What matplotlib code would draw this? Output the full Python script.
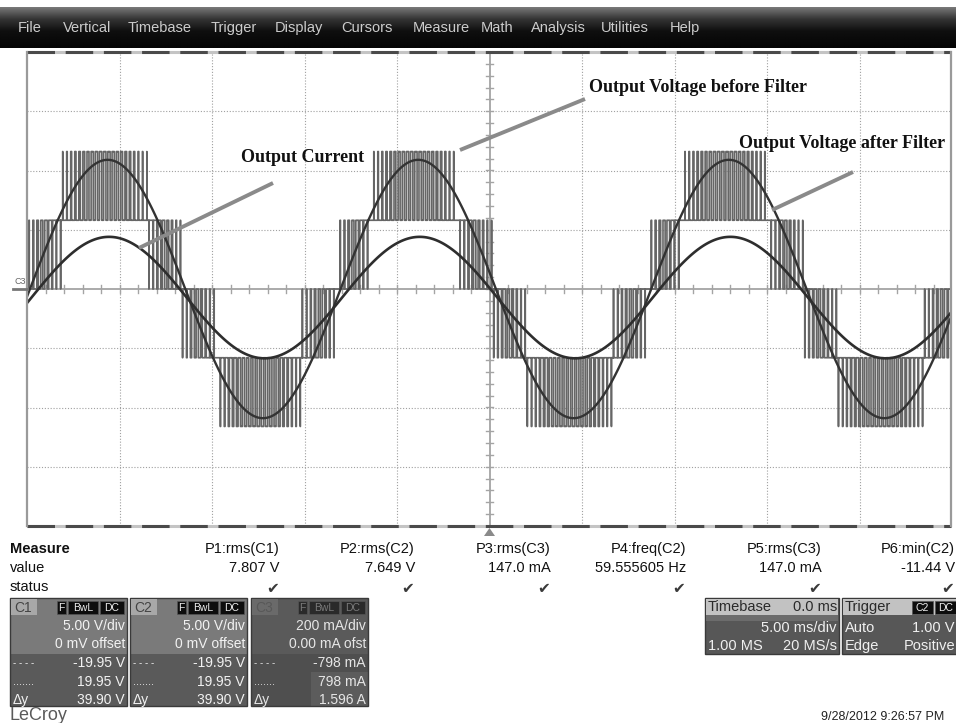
import numpy as np
import matplotlib
matplotlib.use('Agg')
import matplotlib.pyplot as plt
from matplotlib.patches import Rectangle, Polygon

plt.rcParams['path.simplify'] = False

W, H = 956, 723
SANS = 'Liberation Sans'
SERIF = 'Liberation Serif'

# ---------------- data ----------------
menu_items = ['File', 'Vertical', 'Timebase', 'Trigger', 'Display', 'Cursors',
              'Measure', 'Math', 'Analysis', 'Utilities', 'Help']
menu_x = [18, 63, 128, 211, 275, 341, 413, 481, 531, 601, 670]

meas_params = ['P1:rms(C1)', 'P2:rms(C2)', 'P3:rms(C3)', 'P4:freq(C2)',
               'P5:rms(C3)', 'P6:min(C2)']
meas_values = ['7.807 V', '7.649 V', '147.0 mA', '59.555605 Hz', '147.0 mA', '-11.44 V']

ch_names = ['C1', 'C2', 'C3']
ch_scale = ['5.00 V/div', '5.00 V/div', '200 mA/div']
ch_offset = ['0 mV offset', '0 mV offset', '0.00 mA ofst']
ch_low = ['-19.95 V', '-19.95 V', '-798 mA']
ch_high = ['19.95 V', '19.95 V', '798 mA']
ch_dy = ['39.90 V', '39.90 V', '1.596 A']

timebase_rows = [('Timebase', '0.0 ms'), ('', '5.00 ms/div'), ('1.00 MS', '20 MS/s')]
trigger_rows = [('Trigger', ''), ('Auto', '1.00 V'), ('Edge', 'Positive')]

annotations = ['Output Current', 'Output Voltage before Filter', 'Output Voltage after Filter']

# waveform parameters
freq_hz = 59.555605          # P4 measurement
t_zero_ms = -24.84           # upward zero crossing of the filtered voltage
c1_peak_v = 10.9             # filtered output voltage amplitude
c3_peak_ma = 205.0           # output current amplitude
c3_offset_ma = -29.0         # current dc offset
c2_step_v = 5.8              # multilevel inverter voltage step
c2_ref_peak = 1.55           # modulation reference peak (in steps)
c2_lead_ms = 0.2             # reference lead vs filtered voltage
carrier_hz = 4400.0          # PWM carrier frequency
volts_per_div = 5.0
ma_per_div = 200.0
time_span_ms = (-25.0, 25.0)
div_span = (-4.0, 4.0)

# ---------------- figure ----------------
fig = plt.figure(figsize=(W / 100, H / 100), dpi=100)
fig.patch.set_facecolor('white')

# scope graticule axes
ax = fig.add_axes([27 / W, 1 - 526 / H, 925 / W, 474 / H])
ax.set_xlim(*time_span_ms)
ax.set_ylim(*div_span)
ax.axis('off')

# grid
for gx in np.arange(-20, 25, 5):
    if gx != 0:
        ax.axvline(gx, color='#a0a0a0', lw=0.8, ls=(0, (1, 1.6)), zorder=1)
for gy in np.arange(-3, 4, 1):
    if gy != 0:
        ax.axhline(gy, color='#a0a0a0', lw=0.8, ls=(0, (1, 1.6)), zorder=1)
ax.axhline(0, color='#a4a4a4', lw=1.3, zorder=1)
ax.axvline(0, color='#a4a4a4', lw=1.3, zorder=1)
for tx in np.arange(-24, 25, 1):
    ax.plot([tx, tx], [-0.06, 0.06], color='#a4a4a4', lw=1.0, zorder=1)
for ty in np.arange(-3.8, 4.0, 0.2):
    ax.plot([-0.2, 0.2], [ty, ty], color='#a4a4a4', lw=1.0, zorder=1)

# traces
t = np.linspace(time_span_ms[0], time_span_ms[1], 200001)
theta = 2 * np.pi * freq_hz * (t - t_zero_ms) / 1000.0
theta_ref = 2 * np.pi * freq_hz * (t - t_zero_ms + c2_lead_ms) / 1000.0
ref = c2_ref_peak * np.sin(theta_ref)
ph = (t * carrier_hz / 1000.0) % 1.0
tri = 2 * np.abs(ph - 0.5)
levels = ((ref > tri).astype(int) + (ref > tri + 1).astype(int)
          - (ref < tri - 1).astype(int) - (ref < tri - 2).astype(int))
c2_div = levels * c2_step_v / volts_per_div
c1_div = c1_peak_v * np.sin(theta) / volts_per_div
c3_div = (c3_peak_ma * np.sin(theta - 0.03) + c3_offset_ma) / ma_per_div

ax.plot(t, c2_div, color='#666666', lw=1.2, zorder=3)
ax.plot(t, c1_div, color='#333333', lw=1.7, zorder=4)
ax.plot(t, c3_div, color='#2e2e2e', lw=1.9, zorder=4)

# ---------------- overlay (pixel coordinates) ----------------
ov = fig.add_axes([0, 0, 1, 1], zorder=5)
ov.patch.set_visible(False)
ov.axis('off')

# menu bar gradient
grad_vals = np.concatenate([np.linspace(0.47, 0.22, 12), np.linspace(0.2, 0.07, 12),
                            np.linspace(0.06, 0.02, 17)])
grad = np.repeat(grad_vals[:, None], 4, axis=1)
ov.imshow(grad, extent=(0, W, 48, 7), cmap='gray', vmin=0, vmax=1, aspect='auto',
          interpolation='bilinear', zorder=1)
for name, mx in zip(menu_items, menu_x):
    ov.text(mx, 28, name, color='#cccccc', fontsize=10.5, family=SANS,
            ha='left', va='center', zorder=2)

# graticule border
ov.plot([27, 951], [52, 52], color='#c4c4c4', lw=2.2, solid_capstyle='butt', zorder=2)
ov.plot([27, 951], [52, 52], color='#4a4a4a', lw=2.2, ls=(0, (9, 3.5)), zorder=2)
ov.plot([27, 951], [526, 526], color='#c4c4c4', lw=2.2, solid_capstyle='butt', zorder=2)
ov.plot([27, 951], [526, 526], color='#4a4a4a', lw=2.2, ls=(0, (9, 3.5)), zorder=2)
ov.plot([27, 27], [52, 526], color='#9a9a9a', lw=1.6, zorder=2)
ov.plot([951, 951], [52, 526], color='#9a9a9a', lw=1.6, zorder=2)

# C3 ground marker and trigger marker
ov.text(20, 282, 'C3', fontsize=6.5, color='#666666', family=SANS, ha='center', va='center')
ov.plot([13, 27], [289, 289], color='#777777', lw=2.0)
ov.add_patch(Polygon([[489.5, 528], [484, 536], [495, 536]], closed=True,
                     fc='#8a8a8a', ec='none'))

# annotations
ann_pos = [(241, 158), (589, 87), (739, 143)]
ann_lines = [((273, 183), (139, 248)), ((585, 99), (460, 150)), ((853, 172), (772, 210))]
for txt, (axp, ayp) in zip(annotations, ann_pos):
    ov.text(axp, ayp, txt, fontsize=13, family=SERIF, fontweight='bold',
            color='#111111', ha='left', va='center', zorder=6)
for (p0, p1) in ann_lines:
    ov.plot([p0[0], p1[0]], [p0[1], p1[1]], color='#8a8a8a', lw=2.8,
            solid_capstyle='butt', zorder=6)

# measure table
ov.text(10, 549, 'Measure', fontsize=10.5, family=SANS, fontweight='bold',
        color='#111111', ha='left', va='center')
ov.text(10, 568, 'value', fontsize=10.5, family=SANS, color='#111111', ha='left', va='center')
ov.text(10, 587, 'status', fontsize=10.5, family=SANS, color='#111111', ha='left', va='center')
col_right = [280, 415, 551, 686, 822, 955]
for cx, p, v in zip(col_right, meas_params, meas_values):
    ov.text(cx, 549, p, fontsize=10.5, family=SANS, color='#111111', ha='right', va='center')
    ov.text(cx, 568, v, fontsize=10.5, family=SANS, color='#111111', ha='right', va='center')
    ov.text(cx - 1, 588, '\u2714', fontsize=11, family=['DejaVu Sans'], color='#3a3a3a',
            ha='right', va='center')


def badge(x, y, w, h, label, fc, tc):
    ov.add_patch(Rectangle((x, y), w, h, fc=fc, ec='#555555', lw=0.5))
    ov.text(x + w / 2, y + h / 2 + 0.5, label, fontsize=7.5, family=SANS, color=tc,
            ha='center', va='center')


def chan_box(x0, i, dim=False):
    top_c = '#5a5a5a' if dim else '#7a7a7a'
    bot_c = '#4f4f4f' if dim else '#5a5a5a'
    txt_c = '#e6e6e6' if dim else '#f2f2f2'
    ov.add_patch(Rectangle((x0, 598), 117, 56, fc=top_c, ec='none'))
    ov.add_patch(Rectangle((x0, 654), 117, 52, fc=bot_c, ec='none'))
    if dim:
        ov.add_patch(Rectangle((x0 + 60, 672), 57, 34, fc='#666666', ec='none', alpha=0.6))
    ov.add_patch(Rectangle((x0, 598), 117, 108, fill=False, ec='#3a3a3a', lw=1.0))
    ov.add_patch(Rectangle((x0 + 1, 599), 26, 16,
                           fc='#6a6a6a' if dim else '#a8a8a8', ec='none'))
    ov.text(x0 + 4, 607.5, ch_names[i], fontsize=10, family=SANS,
            color='#585858' if dim else '#444444', ha='left', va='center')
    bfc = '#2a2a2a' if dim else '#0d0d0d'
    btc = '#7a7a7a' if dim else '#eeeeee'
    badge(x0 + 47, 601, 9, 13, 'F', bfc, btc)
    badge(x0 + 58, 601, 30, 13, 'BwL', bfc, btc)
    badge(x0 + 90, 601, 24, 13, 'DC', bfc, btc)
    rx = x0 + 115
    ov.text(rx, 626, ch_scale[i], fontsize=10, family=SANS, color=txt_c, ha='right', va='center')
    ov.text(rx, 644, ch_offset[i], fontsize=10, family=SANS, color=txt_c, ha='right', va='center')
    ov.text(rx, 663, ch_low[i], fontsize=10, family=SANS, color=txt_c, ha='right', va='center')
    ov.text(rx, 682, ch_high[i], fontsize=10, family=SANS, color=txt_c, ha='right', va='center')
    ov.text(rx, 700, ch_dy[i], fontsize=10, family=SANS, color=txt_c, ha='right', va='center')
    ov.text(x0 + 3, 663, '- - - -', fontsize=7, family=SANS, color=txt_c, ha='left', va='center')
    ov.text(x0 + 3, 682, '.......', fontsize=8, family=SANS, color=txt_c, ha='left', va='center')
    ov.text(x0 + 3, 700, '\u0394y', fontsize=10, family=SANS, color=txt_c, ha='left', va='center')


chan_box(10, 0)
chan_box(130, 1)
chan_box(251, 2, dim=True)

# timebase box
ov.add_patch(Rectangle((705, 598), 134, 56, fc='#575757', ec='#3a3a3a', lw=1.0))
ov.add_patch(Rectangle((706, 599), 132, 16, fc='#c2c2c2', ec='none'))
ov.add_patch(Rectangle((706, 615), 132, 6, fc='#6c6c6c', ec='none'))
ov.text(708, 607, timebase_rows[0][0], fontsize=10.5, family=SANS, color='#2a2a2a', ha='left', va='center')
ov.text(837, 607, timebase_rows[0][1], fontsize=10.5, family=SANS, color='#2a2a2a', ha='right', va='center')
ov.text(837, 628, timebase_rows[1][1], fontsize=10.5, family=SANS, color='#f0f0f0', ha='right', va='center')
ov.text(708, 646, timebase_rows[2][0], fontsize=10.5, family=SANS, color='#f0f0f0', ha='left', va='center')
ov.text(837, 646, timebase_rows[2][1], fontsize=10.5, family=SANS, color='#f0f0f0', ha='right', va='center')

# trigger box
ov.add_patch(Rectangle((842, 598), 116, 56, fc='#575757', ec='#3a3a3a', lw=1.0))
ov.add_patch(Rectangle((843, 599), 114, 16, fc='#c2c2c2', ec='none'))
ov.text(845, 607, trigger_rows[0][0], fontsize=10.5, family=SANS, color='#2a2a2a', ha='left', va='center')
badge(912, 601, 21, 13, 'C2', '#0d0d0d', '#eeeeee')
badge(935, 601, 21, 13, 'DC', '#0d0d0d', '#eeeeee')
ov.text(845, 628, trigger_rows[1][0], fontsize=10.5, family=SANS, color='#f0f0f0', ha='left', va='center')
ov.text(955, 628, trigger_rows[1][1], fontsize=10.5, family=SANS, color='#f0f0f0', ha='right', va='center')
ov.text(845, 646, trigger_rows[2][0], fontsize=10.5, family=SANS, color='#f0f0f0', ha='left', va='center')
ov.text(955, 646, trigger_rows[2][1], fontsize=10.5, family=SANS, color='#f0f0f0', ha='right', va='center')

# footer
ov.text(10, 716, 'LeCroy', fontsize=13, family=SANS, color='#5a5a5a', ha='left', va='center')
ov.text(944, 717, '9/28/2012 9:26:57 PM', fontsize=9, family=SANS, color='#222222',
        ha='right', va='center')

ov.set_xlim(0, W)
ov.set_ylim(H, 0)

fig.savefig('out.png', dpi=100, facecolor='white')
